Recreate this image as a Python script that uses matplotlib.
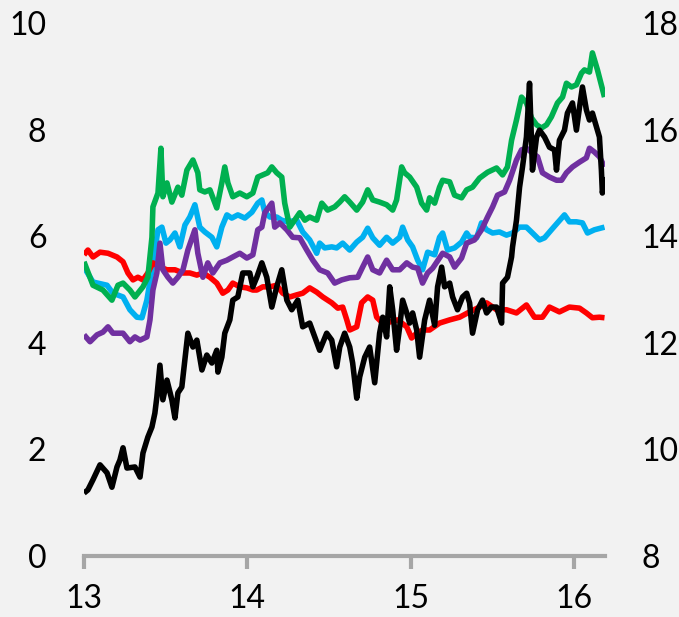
import matplotlib.pyplot as plt

# %%
################################################
# Data (decimal years)
################################################
green_x = [13.00, 13.055, 13.116, 13.171, 13.208, 13.239, 13.281, 13.312, 13.361, 13.391,
           13.416, 13.422, 13.453, 13.471, 13.483, 13.508, 13.538, 13.575, 13.599, 13.630,
           13.667, 13.697, 13.709, 13.740, 13.771, 13.813, 13.844, 13.862, 13.881, 13.911,
           13.954, 13.997, 14.034, 14.064, 14.125, 14.150, 14.180, 14.211, 14.229, 14.260,
           14.278, 14.321, 14.352, 14.382, 14.425, 14.456, 14.492, 14.535, 14.566, 14.596,
           14.627, 14.670, 14.706, 14.737, 14.768, 14.810, 14.853, 14.890, 14.914, 14.945,
           14.963, 14.994, 15.037, 15.067, 15.098, 15.116, 15.147, 15.177, 15.196, 15.239,
           15.269, 15.312, 15.343, 15.379, 15.422, 15.471, 15.526, 15.563, 15.593, 15.618,
           15.648, 15.679, 15.709, 15.740, 15.771, 15.801, 15.832, 15.862, 15.899, 15.930,
           15.954, 15.985, 16.015, 16.046, 16.064, 16.095, 16.113, 16.144, 16.187]
green_y = [5.52, 5.08, 4.99, 4.80, 5.08, 5.12, 4.99, 4.86, 5.05, 5.23,
           5.98, 6.55, 6.81, 7.65, 6.74, 7.00, 6.64, 6.92, 6.77, 7.24,
           7.43, 7.19, 6.87, 6.83, 6.87, 6.53, 7.00, 7.30, 7.00, 6.74,
           6.81, 6.74, 6.81, 7.11, 7.19, 7.30, 7.19, 7.11, 6.62, 6.17,
           6.25, 6.44, 6.30, 6.36, 6.30, 6.62, 6.49, 6.55, 6.64, 6.74,
           6.64, 6.49, 6.64, 6.87, 6.68, 6.64, 6.59, 6.49, 6.68, 7.30,
           7.19, 7.11, 6.92, 6.62, 6.49, 6.72, 6.62, 6.92, 7.05, 7.02,
           6.77, 6.72, 6.87, 6.92, 7.09, 7.20, 7.28, 7.15, 7.30, 7.80,
           8.18, 8.61, 8.50, 8.22, 8.09, 8.03, 8.09, 8.24, 8.50, 8.61,
           8.87, 8.80, 8.84, 9.06, 9.12, 9.08, 9.44, 9.12, 8.61]

blue_x = [13.00, 13.055, 13.141, 13.177, 13.239, 13.281, 13.324, 13.355, 13.385, 13.416,
          13.453, 13.477, 13.502, 13.526, 13.557, 13.587, 13.618, 13.648, 13.679, 13.709,
          13.740, 13.783, 13.813, 13.844, 13.875, 13.905, 13.942, 13.985, 14.028, 14.064,
          14.089, 14.107, 14.138, 14.180, 14.211, 14.248, 14.303, 14.339, 14.382, 14.425,
          14.443, 14.474, 14.517, 14.547, 14.584, 14.627, 14.670, 14.706, 14.737, 14.768,
          14.810, 14.853, 14.890, 14.933, 14.951, 14.982, 15.012, 15.043, 15.073, 15.104,
          15.147, 15.177, 15.196, 15.226, 15.269, 15.312, 15.343, 15.361, 15.404, 15.434,
          15.465, 15.502, 15.544, 15.587, 15.624, 15.667, 15.709, 15.746, 15.789, 15.820,
          15.862, 15.899, 15.942, 15.972, 16.015, 16.052, 16.083, 16.125, 16.187]
blue_y = [5.42, 5.14, 5.08, 4.93, 4.86, 4.62, 4.48, 4.47, 4.80, 5.37,
          6.12, 6.17, 5.87, 5.93, 6.06, 5.80, 6.21, 6.36, 6.59, 6.17,
          6.08, 5.98, 5.80, 6.17, 6.40, 6.34, 6.40, 6.34, 6.45, 6.62,
          6.68, 6.45, 6.36, 6.36, 6.30, 6.27, 6.30, 6.08, 5.93, 5.68,
          5.87, 5.78, 5.80, 5.78, 5.87, 5.74, 5.89, 5.98, 6.15, 5.97,
          5.83, 5.98, 5.87, 5.98, 6.17, 5.93, 5.80, 5.55, 5.37, 5.70,
          5.65, 5.98, 6.06, 5.74, 5.78, 5.89, 6.06, 5.98, 5.97, 6.25,
          6.12, 6.06, 6.08, 6.02, 6.06, 6.17, 6.17, 6.06, 5.93, 5.97,
          6.12, 6.25, 6.40, 6.27, 6.27, 6.25, 6.06, 6.12, 6.17]

purple_x = [13.00, 13.037, 13.080, 13.116, 13.147, 13.177, 13.239, 13.281, 13.312, 13.343,
            13.385, 13.404, 13.422, 13.446, 13.465, 13.483, 13.514, 13.544, 13.575, 13.606,
            13.636, 13.679, 13.697, 13.728, 13.758, 13.789, 13.832, 13.875, 13.911, 13.954,
            13.997, 14.034, 14.064, 14.089, 14.107, 14.150, 14.168, 14.199, 14.242, 14.278,
            14.321, 14.364, 14.401, 14.443, 14.492, 14.535, 14.578, 14.627, 14.676, 14.706,
            14.737, 14.768, 14.810, 14.853, 14.890, 14.933, 14.976, 15.012, 15.043, 15.073,
            15.104, 15.135, 15.196, 15.239, 15.269, 15.312, 15.343, 15.391, 15.434, 15.471,
            15.502, 15.532, 15.575, 15.606, 15.648, 15.679, 15.709, 15.746, 15.777, 15.807,
            15.850, 15.893, 15.924, 15.954, 15.991, 16.034, 16.076, 16.095, 16.125, 16.156,
            16.187]
purple_y = [4.15, 4.02, 4.15, 4.20, 4.30, 4.18, 4.18, 4.02, 4.11, 4.05,
            4.11, 4.43, 4.99, 5.31, 5.87, 5.37, 5.23, 5.12, 5.23, 5.37,
            5.74, 6.12, 5.68, 5.23, 5.50, 5.31, 5.50, 5.55, 5.61, 5.68,
            5.59, 5.65, 6.12, 6.17, 6.44, 6.62, 6.17, 6.25, 6.12, 5.98,
            5.97, 5.74, 5.55, 5.37, 5.31, 5.12, 5.18, 5.22, 5.23, 5.42,
            5.61, 5.37, 5.31, 5.55, 5.37, 5.37, 5.50, 5.42, 5.40, 5.12,
            5.31, 5.40, 5.68, 5.61, 5.42, 5.59, 5.87, 5.93, 6.12, 6.36,
            6.55, 6.77, 6.83, 7.05, 7.43, 7.62, 7.65, 7.56, 7.49, 7.19,
            7.11, 7.05, 7.05, 7.19, 7.30, 7.39, 7.47, 7.65, 7.58, 7.49,
            7.30]

red_x = [13.00, 13.024, 13.055, 13.098, 13.147, 13.202, 13.239, 13.269, 13.300, 13.330,
         13.361, 13.391, 13.422, 13.465, 13.508, 13.557, 13.606, 13.648, 13.691, 13.728,
         13.771, 13.813, 13.850, 13.881, 13.911, 13.954, 13.997, 14.034, 14.058, 14.095,
         14.138, 14.180, 14.217, 14.260, 14.303, 14.339, 14.382, 14.425, 14.462, 14.517,
         14.554, 14.584, 14.609, 14.627, 14.670, 14.700, 14.737, 14.768, 14.792, 14.829,
         14.872, 14.920, 14.976, 15.006, 15.037, 15.073, 15.116, 15.177, 15.239, 15.300,
         15.361, 15.422, 15.465, 15.526, 15.587, 15.648, 15.709, 15.758, 15.807, 15.850,
         15.911, 15.972, 16.034, 16.076, 16.113, 16.156, 16.187]
red_y = [5.65, 5.74, 5.61, 5.70, 5.68, 5.61, 5.52, 5.31, 5.18, 5.23,
         5.18, 5.31, 5.50, 5.42, 5.37, 5.37, 5.31, 5.31, 5.27, 5.31,
         5.23, 5.12, 4.93, 4.99, 5.12, 5.05, 5.03, 4.99, 4.99, 5.05,
         5.05, 5.08, 4.93, 4.86, 4.90, 4.93, 5.03, 4.95, 4.86, 4.75,
         4.65, 4.67, 4.43, 4.24, 4.30, 4.75, 4.86, 4.80, 4.48, 4.37,
         4.39, 4.43, 4.30, 4.09, 4.18, 4.24, 4.24, 4.37, 4.43, 4.48,
         4.58, 4.67, 4.75, 4.62, 4.62, 4.56, 4.71, 4.48, 4.48, 4.67,
         4.58, 4.67, 4.65, 4.56, 4.47, 4.48, 4.47]

# black series belongs to the right-hand axis (8-18)
black_x = [13.00, 13.024, 13.055, 13.098, 13.141, 13.171, 13.202, 13.220, 13.239, 13.263,
           13.312, 13.343, 13.361, 13.391, 13.416, 13.434, 13.446, 13.465, 13.483, 13.508,
           13.538, 13.557, 13.575, 13.599, 13.618, 13.636, 13.667, 13.691, 13.722, 13.752,
           13.783, 13.813, 13.820, 13.844, 13.862, 13.893, 13.911, 13.942, 13.972, 14.015,
           14.034, 14.058, 14.089, 14.119, 14.150, 14.180, 14.211, 14.242, 14.272, 14.309,
           14.339, 14.382, 14.413, 14.443, 14.486, 14.517, 14.547, 14.566, 14.596, 14.627,
           14.645, 14.670, 14.688, 14.719, 14.749, 14.780, 14.810, 14.829, 14.853, 14.872,
           14.890, 14.914, 14.933, 14.951, 14.976, 14.994, 15.012, 15.037, 15.055, 15.086,
           15.116, 15.147, 15.165, 15.190, 15.208, 15.239, 15.257, 15.287, 15.318, 15.343,
           15.361, 15.379, 15.410, 15.440, 15.465, 15.495, 15.526, 15.557, 15.563, 15.593,
           15.618, 15.624, 15.648, 15.667, 15.685, 15.709, 15.728, 15.746, 15.771, 15.789,
           15.820, 15.850, 15.881, 15.893, 15.911, 15.942, 15.960, 15.991, 16.015, 16.034,
           16.052, 16.076, 16.095, 16.113, 16.138, 16.156, 16.168, 16.174, 16.19]
black_y = [9.18, 9.24, 9.43, 9.71, 9.56, 9.29, 9.67, 9.80, 10.03, 9.65,
           9.67, 9.48, 9.93, 10.23, 10.42, 10.68, 10.98, 11.58, 10.93, 11.30,
           10.93, 10.59, 11.06, 11.17, 11.68, 12.18, 11.92, 12.05, 11.49, 11.77,
           11.62, 11.86, 11.45, 11.73, 12.18, 12.43, 12.80, 12.86, 13.31, 13.31,
           13.05, 13.23, 13.50, 13.23, 12.67, 13.05, 13.37, 12.80, 12.62, 12.80,
           12.30, 12.37, 12.11, 11.86, 12.18, 12.05, 11.55, 11.92, 12.18, 11.92,
           11.62, 10.96, 11.36, 11.73, 11.92, 11.25, 12.18, 12.48, 12.11, 13.05,
           12.62, 11.86, 12.30, 12.80, 12.56, 12.37, 12.56, 12.24, 11.73, 12.43,
           12.80, 12.33, 13.05, 13.42, 13.05, 13.12, 12.86, 12.62, 12.86, 12.93,
           12.75, 12.18, 12.62, 12.80, 12.56, 12.67, 12.67, 12.37, 13.12, 13.23,
           13.61, 13.80, 14.30, 14.92, 15.30, 15.86, 16.87, 15.24, 15.86, 15.99,
           15.86, 15.67, 15.62, 15.24, 15.80, 15.99, 16.31, 16.50, 15.99, 16.42,
           16.80, 16.37, 16.18, 16.31, 16.05, 15.86, 15.24, 14.81, 15.11]

left_ticks = [0, 2, 4, 6, 8, 10]
right_ticks = [8, 10, 12, 14, 16, 18]
year_ticks = [13, 14, 15, 16]

################################################
# Plot
################################################
plt.rcParams['font.family'] = ['Lato', 'DejaVu Sans']
bg = '#f2f2f2'
axis_grey = '#a6a6a6'

fig = plt.figure(figsize=(6.79, 6.17), dpi=100, facecolor=bg)
ax = fig.add_axes([0.1237, 0.0989, 0.7673, 0.8638])
ax.set_facecolor(bg)

line_kw = dict(lw=4.0, solid_capstyle='butt', solid_joinstyle='round')
ax.plot(blue_x, blue_y, color='#00b0f0', **line_kw)
ax.plot(red_x, red_y, color='#ff0000', **line_kw)
ax.plot(purple_x, purple_y, color='#7030a0', **line_kw)
ax.plot(green_x, green_y, color='#00b050', **line_kw)

ax.set_xlim(13, 16.19)
ax.set_ylim(0, 10)
ax.set_xticks(year_ticks)
ax.set_yticks(left_ticks)
for s in ['top', 'left', 'right']:
    ax.spines[s].set_visible(False)
ax.spines['bottom'].set_color(axis_grey)
ax.spines['bottom'].set_linewidth(3)
ax.tick_params(axis='x', colors=axis_grey, length=9, width=3, pad=11,
               labelsize=23, labelcolor='black')
ax.tick_params(axis='y', length=0, pad=27, labelsize=23)

axr = ax.twinx()
axr.plot(black_x, black_y, color='black', **line_kw)
axr.set_ylim(8, 18)
axr.set_yticks(right_ticks)
for s in ['top', 'left', 'right', 'bottom']:
    axr.spines[s].set_visible(False)
axr.tick_params(axis='y', length=0, pad=26, labelsize=23)

fig.savefig('out.png', dpi=100, facecolor=bg)
